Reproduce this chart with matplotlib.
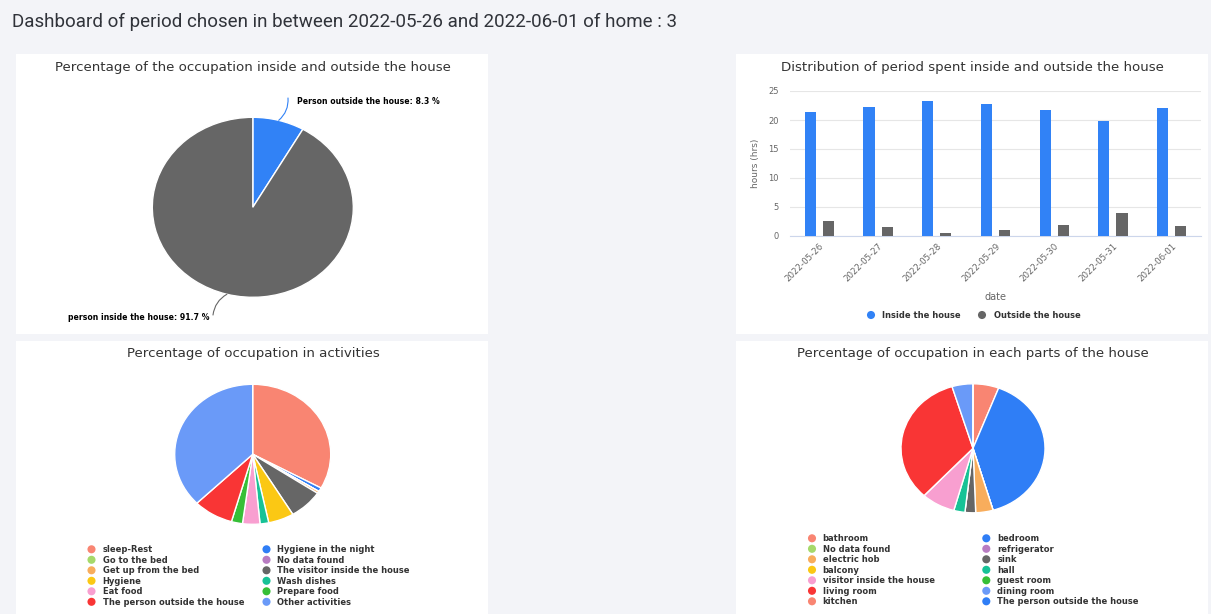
import matplotlib
matplotlib.use("Agg")
import matplotlib.pyplot as plt
from matplotlib.patches import Rectangle
import numpy as np

# ---- data ----
dates = ["2022-05-26", "2022-05-27", "2022-05-28", "2022-05-29",
         "2022-05-30", "2022-05-31", "2022-06-01"]
hours_inside = [21.4, 22.2, 23.2, 22.8, 21.8, 19.9, 22.1]
hours_outside = [2.5, 1.6, 0.5, 1.0, 1.9, 4.0, 1.7]

occupation_labels = ["Person outside the house", "person inside the house"]
occupation_values = [8.3, 91.7]

activity_labels = ["sleep-Rest", "Hygiene in the night", "Go to the bed",
                   "No data found", "Get up from the bed",
                   "The visitor inside the house", "Hygiene", "Wash dishes",
                   "Eat food", "Prepare food", "The person outside the house",
                   "Other activities"]
activity_values = [33.0, 0.9, 0.0, 0.0, 0.5, 7.0, 5.3, 1.8, 3.6, 2.3, 8.3, 37.3]

room_labels = ["bathroom", "bedroom", "No data found", "refrigerator",
               "electric hob", "sink", "balcony", "hall",
               "visitor inside the house", "guest room", "living room",
               "dining room", "kitchen", "The person outside the house"]
room_values = [5.8, 39.7, 0.0, 0.0, 3.9, 2.4, 0.0, 2.5, 7.6, 0.0, 33.4, 4.7,
               0.0, 0.0]

palette = ["#f98572", "#2f7ef6", "#a6d96a", "#b87cc2", "#f8ad5c", "#666666",
           "#fbc814", "#17c296", "#f89fd0", "#36bf37", "#f93535", "#6a9af8"]

BLUE = "#3182f6"
GRAY = "#666666"
TITLE_C = "#333333"
LABEL_C = "#666666"

W, H = 1211, 614
fig = plt.figure(figsize=(W / 100, H / 100), dpi=100)
fig.patch.set_facecolor("#f3f4f8")


def ax_px(x0, y0, x1, y1, **kw):
    return fig.add_axes([x0 / W, 1 - y1 / H, (x1 - x0) / W, (y1 - y0) / H], **kw)


# panel backgrounds
bg = ax_px(0, 0, W, H, zorder=-10)
bg.set_xlim(0, W)
bg.set_ylim(H, 0)
bg.axis("off")
for (x0, y0, x1, y1) in [(16, 54, 488, 334), (736, 54, 1208, 334),
                         (16, 341, 488, 614), (736, 341, 1208, 614)]:
    bg.add_patch(Rectangle((x0, y0), x1 - x0, y1 - y0, facecolor="white",
                           edgecolor="none"))

# overlay for text in pixel coordinates
ov = ax_px(0, 0, W, H, zorder=10)
ov.set_xlim(0, W)
ov.set_ylim(H, 0)
ov.axis("off")
ov.patch.set_alpha(0)

ov.text(12, 22, "Dashboard of period chosen in between 2022-05-26 and 2022-06-01 of home : 3",
        fontsize=13.5, family="Roboto", color="#30333a", va="center", ha="left")

title_kw = dict(fontsize=9.6, family="DejaVu Sans", color=TITLE_C,
                ha="center", va="center")
ov.text(252.5, 67.7, "Percentage of the occupation inside and outside the house", **title_kw)
ov.text(972.8, 67.7, "Distribution of period spent inside and outside the house", **title_kw)
ov.text(253, 353.3, "Percentage of occupation in activities", **title_kw)
ov.text(972.7, 353.3, "Percentage of occupation in each parts of the house", **title_kw)


def draw_pie(cx, cy, rx, ry, values, colors):
    ax = ax_px(cx - rx, cy - ry, cx + rx, cy + ry)
    ax.pie(values, colors=colors, startangle=90, counterclock=False,
           radius=1.0, wedgeprops=dict(edgecolor="white", linewidth=1.0))
    ax.set_aspect("auto")
    ax.set_xlim(-1, 1)
    ax.set_ylim(-1, 1)
    ax.axis("off")
    return ax


# ---- pie 1: inside / outside ----
ax1 = draw_pie(252.8, 207.3, 100.5, 90.0, occupation_values, [BLUE, GRAY])
cum = np.cumsum([0] + occupation_values)
lab_kw = dict(fontsize=5.6, fontweight="bold", color="black", va="center",
              family="DejaVu Sans")
conn = [((288, 98), (297, 101.7), "left", BLUE, -0.25),
        ((213, 315), (209, 317), "right", GRAY, -0.25)]
for i, (lab, val) in enumerate(zip(occupation_labels, occupation_values)):
    mid = (cum[i] + val / 2) / 100 * 2 * np.pi
    ex, ey = np.sin(mid), np.cos(mid)
    end, tpos, ha, col, rad = conn[i]
    ax1.annotate("", xy=(ex, ey), xycoords="data", xytext=end,
                 textcoords=ov.transData,
                 arrowprops=dict(arrowstyle="-", color=col, lw=0.8,
                                 shrinkA=0, shrinkB=0,
                                 connectionstyle=f"arc3,rad={rad}"))
    ov.text(tpos[0], tpos[1], f"{lab}: {val} %", ha=ha, **lab_kw)

# ---- bar chart ----
axb = ax_px(790, 91, 1201, 236)
axb.patch.set_alpha(0)
x = np.arange(len(dates))
axb.bar(x - 0.155, hours_inside, width=0.19, color=BLUE, zorder=3,
        label="Inside the house")
axb.bar(x + 0.155, hours_outside, width=0.19, color=GRAY, zorder=3,
        label="Outside the house")
axb.set_xlim(-0.5, len(dates) - 0.5)
axb.set_ylim(0, 25)
axb.set_yticks([0, 5, 10, 15, 20, 25])
axb.yaxis.grid(True, color="#e6e6e6", lw=0.8, zorder=0)
axb.set_xticks(x)
axb.set_xticklabels(dates, rotation=45, ha="right", rotation_mode="anchor")
for s in ["top", "right", "left"]:
    axb.spines[s].set_visible(False)
axb.spines["bottom"].set_color("#ccd6eb")
axb.spines["bottom"].set_linewidth(0.8)
axb.tick_params(axis="y", length=0, pad=8, labelsize=6, labelcolor=LABEL_C)
axb.tick_params(axis="x", length=0, pad=4, labelsize=6.2, labelcolor=LABEL_C)
axb.set_ylabel("hours (hrs)", fontsize=6.5, color=LABEL_C, labelpad=6)
axb.set_xlabel("date", fontsize=7, color=LABEL_C, labelpad=6)

leg_kw = dict(fontsize=6, fontweight="bold", color=TITLE_C, va="center",
              ha="left", family="DejaVu Sans")
for (mx, tx, col, lab) in [(871, 882, BLUE, "Inside the house"),
                           (982, 994, GRAY, "Outside the house")]:
    ov.scatter([mx], [315], s=34, color=col, edgecolors="none")
    ov.text(tx, 315.3, lab, **leg_kw)

# ---- pie 3: activities ----
act_colors = [palette[i % len(palette)] for i in range(len(activity_values))]
draw_pie(252.7, 454.3, 78, 70, activity_values, act_colors)

# ---- pie 4: rooms ----
room_colors = [palette[i % len(palette)] for i in range(len(room_values))]
draw_pie(973, 448.3, 72, 64.5, room_values, room_colors)


def grid_legend(labels, colors, mx0, tx0, mx1, tx1, y0, dy):
    for i, (lab, col) in enumerate(zip(labels, colors)):
        row, colidx = divmod(i, 2)
        y = y0 + row * dy
        mx, tx = (mx0, tx0) if colidx == 0 else (mx1, tx1)
        ov.scatter([mx], [y], s=34, color=col, edgecolors="none")
        ov.text(tx, y + 0.3, lab, **leg_kw)


grid_legend(activity_labels, act_colors, 91.5, 102.7, 266.5, 277.3, 549.3, 10.5)
grid_legend(room_labels, room_colors, 812, 822.7, 986.3, 997.3, 538.3, 10.5)

fig.savefig("out.png", dpi=100, facecolor=fig.get_facecolor())
